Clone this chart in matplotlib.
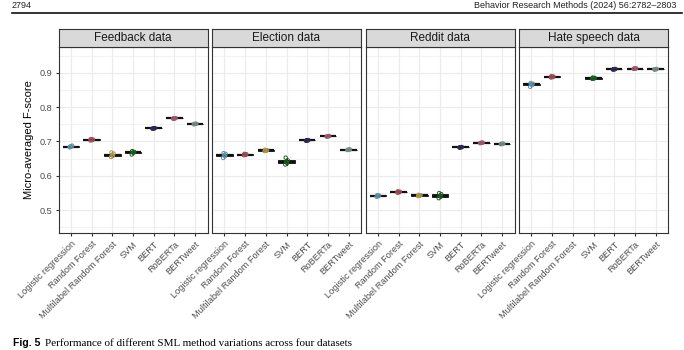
import numpy as np
import matplotlib
matplotlib.use('Agg')
import matplotlib.pyplot as plt
from matplotlib.lines import Line2D

plt.rcParams['font.family'] = ['Liberation Sans', 'DejaVu Sans']

models = ['Logistic regression', 'Random Forest', 'Multilabel Random Forest',
          'SVM', 'BERT', 'RoBERTa', 'BERTweet']
datasets = ['Feedback data', 'Election data', 'Reddit data', 'Hate speech data']

# scores of the repeated runs, one list per model
feedback_scores = [
    [0.683, 0.685, 0.686, 0.688, 0.684],
    [0.703, 0.704, 0.705, 0.706, 0.707],
    [0.655, 0.658, 0.661, 0.665, 0.668],
    [0.662, 0.667, 0.668, 0.670, 0.672],
    [0.737, 0.738, 0.738, 0.739, 0.738],
    [0.766, 0.767, 0.767, 0.768, 0.767],
    [0.750, 0.751, 0.751, 0.752, 0.751],
]
election_scores = [
    [0.652, 0.657, 0.660, 0.664, 0.666],
    [0.660, 0.661, 0.662, 0.663, 0.664],
    [0.672, 0.673, 0.674, 0.675, 0.676],
    [0.633, 0.637, 0.641, 0.645, 0.653],
    [0.702, 0.703, 0.703, 0.704, 0.703],
    [0.714, 0.715, 0.715, 0.716, 0.715],
    [0.675, 0.676, 0.676, 0.677, 0.676],
]
reddit_scores = [
    [0.539, 0.541, 0.542, 0.543, 0.544],
    [0.551, 0.552, 0.553, 0.554, 0.555],
    [0.541, 0.542, 0.543, 0.544, 0.545],
    [0.535, 0.539, 0.542, 0.547, 0.550],
    [0.682, 0.683, 0.683, 0.684, 0.683],
    [0.695, 0.696, 0.696, 0.697, 0.696],
    [0.692, 0.693, 0.693, 0.694, 0.693],
]
hate_scores = [
    [0.859, 0.864, 0.866, 0.868, 0.870],
    [0.886, 0.887, 0.888, 0.889, 0.890],
    [],
    [0.882, 0.883, 0.884, 0.885, 0.886],
    [0.909, 0.910, 0.910, 0.911, 0.910],
    [0.911, 0.912, 0.912, 0.913, 0.912],
    [0.909, 0.910, 0.910, 0.911, 0.910],
]
all_scores = [feedback_scores, election_scores, reddit_scores, hate_scores]

fill_colors = ['#9fc3d6', '#d69a9f', '#d6c98f', '#1f5a36', '#3c3c66', '#c78a9a', '#a9b8b8']
point_colors = ['#5d8fa8', '#9a4a55', '#a8944c', '#1b5e20', '#2a2a55', '#a05a70', '#7a8a8a']
jitter = [-0.06, 0.03, -0.02, 0.06, -0.04]

W, H = 684, 350
fig = plt.figure(figsize=(W / 100, H / 100), dpi=100)

panel_w = 149
gap = 4.5
left0 = 58.5
top_px, bottom_px = 46.7, 233.3
strip_top = 28.7

for i, (name, scores) in enumerate(zip(datasets, all_scores)):
    lx = left0 + i * (panel_w + gap)
    ax = fig.add_axes([lx / W, 1 - bottom_px / H, panel_w / W, (bottom_px - top_px) / H])
    st = fig.add_axes([lx / W, 1 - top_px / H, panel_w / W, (top_px - strip_top) / H])

    ax.set_xlim(0.4, 7.6)
    ax.set_ylim(0.433, 0.9756)
    ax.set_yticks([0.5, 0.6, 0.7, 0.8, 0.9])
    ax.set_yticks([0.45, 0.55, 0.65, 0.75, 0.85, 0.95], minor=True)
    ax.grid(True, which='major', color='#ebebeb', lw=0.8)
    ax.grid(True, which='minor', axis='y', color='#ebebeb', lw=0.45)
    ax.set_axisbelow(True)

    pos = [k + 1 for k in range(len(models)) if len(scores[k]) > 0]
    data = [scores[k] for k in range(len(models)) if len(scores[k]) > 0]
    bp = ax.boxplot(data, positions=pos, widths=0.8, patch_artist=True,
                    showfliers=False, whis=1.5,
                    boxprops=dict(color='#222222', lw=0.7),
                    medianprops=dict(color='#111111', lw=1.6),
                    whiskerprops=dict(color='#222222', lw=0.7),
                    capprops=dict(lw=0))
    for patch, p in zip(bp['boxes'], pos):
        patch.set_facecolor(fill_colors[p - 1])
    for p, vals in zip(pos, data):
        xs = [p + jitter[j % len(jitter)] for j in range(len(vals))]
        ax.scatter(xs, vals, s=6, facecolor='none',
                   edgecolor=point_colors[p - 1], lw=0.7, zorder=3)

    ax.set_xticks(range(1, len(models) + 1))
    ax.set_xticklabels(models, rotation=45, ha='right', rotation_mode='anchor',
                       fontsize=6.6, color='#4d4d4d')
    ax.tick_params(axis='both', which='major', length=2.5, color='#333333', pad=2)
    ax.tick_params(axis='y', which='minor', length=0)
    ax.tick_params(axis='y', labelsize=6.6, labelcolor='#4d4d4d')
    if i > 0:
        ax.tick_params(axis='y', which='both', left=False, labelleft=False)
    else:
        ax.set_ylabel('Micro-averaged F-score', fontsize=8, labelpad=4)
    for s in ax.spines.values():
        s.set_color('#333333')
        s.set_linewidth(0.8)

    st.set_facecolor('#d9d9d9')
    st.set_xticks([])
    st.set_yticks([])
    for s in st.spines.values():
        s.set_color('#333333')
        s.set_linewidth(0.8)
    st.text(0.5, 0.5, name, ha='center', va='center', fontsize=8.5,
            color='#1a1a1a', transform=st.transAxes)

# page header and caption
fig.text(12 / W, 1 - 5 / H, '2794', fontsize=6.5, va='center', ha='left', color='#222222')
fig.text(676 / W, 1 - 5 / H, 'Behavior Research Methods (2024) 56:2782\u20132803',
         fontsize=6.5, va='center', ha='right', color='#222222')
fig.add_artist(Line2D([12 / W, 682 / W], [1 - 13 / H, 1 - 13 / H], color='#111111', lw=1.2))
fig.text(13 / W, 1 - 343 / H, 'Fig. 5', fontsize=7.5, fontweight='bold', va='center', ha='left')
fig.text(45 / W, 1 - 343 / H,
         'Performance of different SML method variations across four datasets',
         fontsize=8, va='center', ha='left', family=['Liberation Serif', 'DejaVu Serif'])

fig.savefig('out.png', dpi=100)
